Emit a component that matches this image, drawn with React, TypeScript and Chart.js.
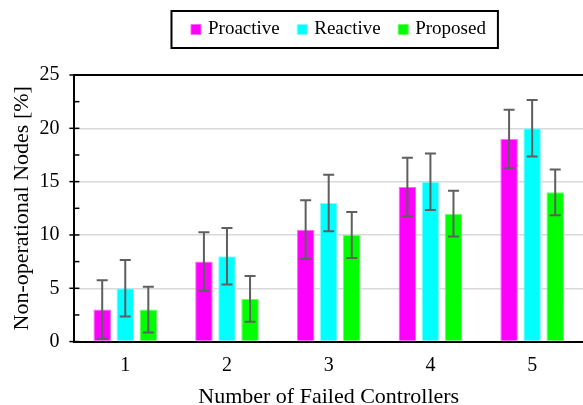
import React, { useEffect, useRef } from "react";
import { Chart, registerables } from "chart.js";

Chart.register(...registerables);

const categories = ["1", "2", "3", "4", "5"];
const proactive = [3, 7.5, 10.5, 14.5, 19];
const reactive = [5, 8, 13, 15, 20];
const proposed = [3, 4, 10, 12, 14];
const proactiveErr = [2.75, 2.75, 2.75, 2.75, 2.75];
const reactiveErr = [2.65, 2.65, 2.65, 2.65, 2.65];
const proposedErr = [2.15, 2.15, 2.15, 2.15, 2.15];
const yTicks = [0, 5, 10, 15, 20, 25];

const FONT = "'Liberation Serif', 'Times New Roman', serif";

const errorBarPlugin = {
  id: "errorBars",
  afterDatasetsDraw(chart: any) {
    const ctx = chart.ctx;
    const yScale = chart.scales.y;
    ctx.save();
    ctx.strokeStyle = "#5f5f5f";
    ctx.lineWidth = 2;
    chart.data.datasets.forEach((ds: any, di: number) => {
      const meta = chart.getDatasetMeta(di);
      const errs = ds.errors as number[];
      meta.data.forEach((bar: any, i: number) => {
        const v = ds.data[i];
        const e = errs[i];
        const x = bar.x;
        const yTop = yScale.getPixelForValue(v + e);
        const yBot = yScale.getPixelForValue(v - e);
        const cap = 5.5;
        ctx.beginPath();
        ctx.moveTo(x, yTop);
        ctx.lineTo(x, yBot);
        ctx.moveTo(x - cap, yTop);
        ctx.lineTo(x + cap, yTop);
        ctx.moveTo(x - cap, yBot);
        ctx.lineTo(x + cap, yBot);
        ctx.stroke();
      });
    });
    ctx.restore();
  },
};

const legendMarginPlugin = {
  id: "legendMargin",
  beforeInit(chart: any) {
    const lg = chart.legend;
    if (!lg) return;
    const orig = lg.fit;
    lg.fit = function () {
      orig.bind(lg)();
      this.height += 26;
    };
  },
  afterLayout(chart: any) {
    const lg = chart.legend;
    if (!lg) return;
    lg.left += 11;
    lg.right += 11;
  },
};

const framePlugin = {
  id: "frame",
  afterDraw(chart: any) {
    const ctx = chart.ctx;
    const area = chart.chartArea;
    const yScale = chart.scales.y;
    ctx.save();
    ctx.strokeStyle = "#000";
    ctx.lineWidth = 2;
    ctx.beginPath();
    ctx.moveTo(area.left - 1, area.top);
    ctx.lineTo(area.right, area.top);
    ctx.stroke();
    ctx.lineWidth = 1.5;
    for (let v = 0; v <= 25; v += 2.5) {
      const y = yScale.getPixelForValue(v);
      const major = Math.abs(v % 5) < 1e-6;
      ctx.beginPath();
      ctx.moveTo(area.left - (major ? 5 : 0), y);
      ctx.lineTo(area.left + 5, y);
      ctx.stroke();
    }
    const lg = chart.legend;
    if (lg && lg.legendHitBoxes && lg.legendHitBoxes.length) {
      const boxes = lg.legendHitBoxes;
      const first = boxes[0];
      const last = boxes[boxes.length - 1];
      const x0 = first.left - 22;
      const x1 = last.left + last.width + 12;
      const yc = first.top + first.height / 2;
      ctx.lineWidth = 2;
      ctx.strokeRect(x0, yc - 18.5, x1 - x0, 37);
    }
    ctx.restore();
  },
};

export default function App() {
  const ref = useRef<HTMLCanvasElement>(null);
  useEffect(() => {
    if (!ref.current) return;
    const common = {
      borderWidth: 1,
      categoryPercentage: 0.68,
      barPercentage: 0.76,
    };
    const chart = new Chart(ref.current, {
      type: "bar",
      data: {
        labels: categories,
        datasets: [
          { label: "Proactive", data: proactive, errors: proactiveErr, backgroundColor: "#ff00ff", borderColor: "#ff66ff", ...common } as any,
          { label: "Reactive", data: reactive, errors: reactiveErr, backgroundColor: "#00ffff", borderColor: "#80ffff", ...common } as any,
          { label: "Proposed", data: proposed, errors: proposedErr, backgroundColor: "#00ff00", borderColor: "#66ff66", ...common } as any,
        ],
      },
      options: {
        animation: false,
        responsive: false,
        layout: { padding: { top: 0, left: 0, right: 0, bottom: 0 } },
        plugins: {
          tooltip: { enabled: false },
          legend: {
            position: "top",
            fullSize: false,
            labels: {
              usePointStyle: true,
              pointStyle: "rect",
              boxWidth: 5,
              boxHeight: 10,
              padding: 20,
              color: "#000",
              font: { family: FONT, size: 19 },
            },
          },
        },
        scales: {
          x: {
            grid: { display: false, drawTicks: false },
            border: { color: "#000", width: 2 },
            ticks: { color: "#000", font: { family: FONT, size: 20 }, padding: 12 },
            title: {
              display: true,
              text: "Number of Failed Controllers",
              color: "#000",
              font: { family: FONT, size: 22 },
              padding: { top: -6, bottom: -5 },
            },
          },
          y: {
            min: 0,
            max: 25,
            afterBuildTicks: (axis: any) => {
              axis.ticks = yTicks.map((v) => ({ value: v }));
            },
            grid: {
              color: (c: any) => (c.tick && (c.tick.value === 0 || c.tick.value === 25) ? "rgba(0,0,0,0)" : "#d9d9d9"),
              lineWidth: 1.5,
              drawTicks: false,
            },
            border: { color: "#000", width: 2 },
            ticks: { color: "#000", font: { family: FONT, size: 20 }, padding: 15 },
            title: {
              display: true,
              text: "Non-operational Nodes [%]",
              color: "#000",
              font: { family: FONT, size: 22 },
              padding: { top: 9, bottom: -11 },
            },
          },
        },
      },
      plugins: [legendMarginPlugin, errorBarPlugin, framePlugin],
    } as any);
    return () => chart.destroy();
  }, []);
  return (
    <div style={{ position: "fixed", left: 0, top: 0, width: 583, height: 405 }}>
      <canvas ref={ref} width={583} height={405} style={{ width: 583, height: 405 }} />
    </div>
  );
}
